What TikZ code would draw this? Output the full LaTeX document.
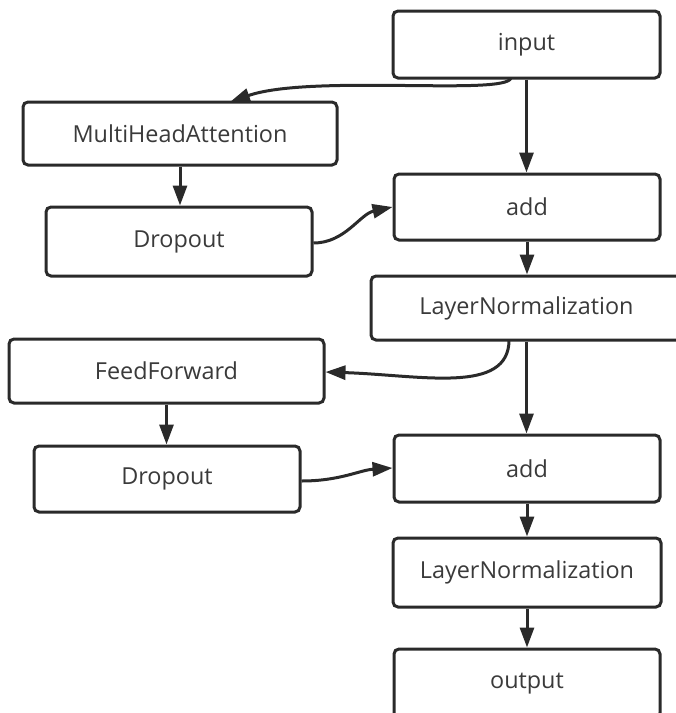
\documentclass[tikz,border=0pt]{standalone}
\usepackage{fontspec}
\setmainfont{Open Sans}
\usetikzlibrary{arrows.meta}
\definecolor{linec}{HTML}{2A2A2A}
\definecolor{textc}{HTML}{3A3A3A}
\tikzset{
  blk/.style={draw=linec, line width=3pt, rounded corners=5pt, fill=white,
    inner sep=0pt, text=textc, font=\fontsize{23.4}{27}\selectfont},
  conn/.style={draw=linec, line width=3pt, -{Triangle[length=20pt,width=14pt]}},
}
\begin{document}
\begin{tikzpicture}[x=1pt,y=-1pt]
\useasboundingbox (0,0) rectangle (676,713);
\clip (0,0) rectangle (676,713);
\node[blk, minimum width=267pt, minimum height=67pt] (input) at (526.5,44.5) {input};
\node[blk, minimum width=314pt, minimum height=63pt] (mha) at (180,133.5) {MultiHeadAttention};
\node[blk, minimum width=266pt, minimum height=66pt] (add1) at (527,207) {add};
\node[blk, minimum width=266pt, minimum height=69pt] (drop1) at (179,241.5) {Dropout};
\node[blk, minimum width=311pt, minimum height=64pt] (ln1) at (526.5,308) {LayerNormalization};
\node[blk, minimum width=315pt, minimum height=64pt] (ff) at (166.5,371) {FeedForward};
\node[blk, minimum width=266pt, minimum height=67pt] (add2) at (527,468.5) {add};
\node[blk, minimum width=266pt, minimum height=66pt] (drop2) at (167,479) {Dropout};
\node[blk, minimum width=268pt, minimum height=69pt] (ln2) at (527,572.5) {LayerNormalization};
\node[blk, minimum width=266pt, minimum height=69pt] (output) at (527,683.5) {output};

\coordinate (s1) at (511,78);
\coordinate (t1) at (230,102);
\draw[conn] (s1) .. controls (506,96) and (310,74) .. (t1);
\draw[conn] (input.south) -- (input.south |- add1.north);
\draw[conn] (mha.south) -- (mha.south |- drop1.north);
\draw[conn] (drop1.east |- 0,243) .. controls (345,243) and (360,214) .. (add1.west |- 0,207);
\draw[conn] (add1.south) -- (add1.south |- ln1.north);
\coordinate (s2) at (509,340);
\draw[conn] (s2) .. controls (509,395) and (420,375) .. (ff.east |- 0,372);
\draw[conn] (ln1.south) -- (ln1.south |- add2.north);
\draw[conn] (ff.south) -- (ff.south |- drop2.north);
\draw[conn] (drop2.east |- 0,481) .. controls (340,481) and (360,470) .. (add2.west |- 0,468);
\draw[conn] (add2.south) -- (add2.south |- ln2.north);
\draw[conn] (ln2.south) -- (ln2.south |- output.north);
\end{tikzpicture}
\end{document}
